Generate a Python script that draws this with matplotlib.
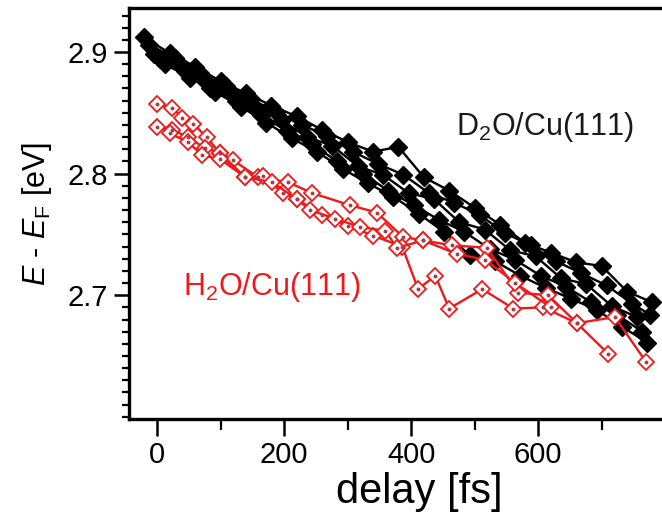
import matplotlib
matplotlib.use("Agg")
import matplotlib.pyplot as plt
from matplotlib.ticker import MultipleLocator, FixedLocator

plt.rcParams['font.family'] = ['Liberation Sans', 'DejaVu Sans']
plt.rcParams['mathtext.fontset'] = 'custom'
plt.rcParams['mathtext.rm'] = 'Liberation Sans'
plt.rcParams['mathtext.it'] = 'Liberation Sans:italic'

# D2O/Cu(111) runs: delay [fs] and peak energy E - E_F [eV]
d2o_x1 = [-20, 20, 60, 100, 140, 180, 220, 260, 300, 340, 380, 420, 460, 500, 540, 580, 620, 660, 700, 740, 780]
d2o_y1 = [2.912, 2.899, 2.888, 2.876, 2.866, 2.856, 2.847, 2.836, 2.826, 2.818, 2.822, 2.797, 2.786, 2.772, 2.758, 2.743, 2.735, 2.727, 2.724, 2.703, 2.694]
d2o_x2 = [-12, 28, 68, 108, 148, 188, 228, 268, 308, 348, 388, 428, 468, 508, 548, 588, 628, 668, 708, 748, 776]
d2o_y2 = [2.906, 2.895, 2.883, 2.872, 2.861, 2.851, 2.840, 2.831, 2.818, 2.808, 2.799, 2.784, 2.776, 2.766, 2.751, 2.741, 2.728, 2.718, 2.708, 2.693, 2.684]
d2o_x3 = [-4, 36, 76, 116, 156, 196, 236, 276, 316, 356, 396, 436, 476, 516, 556, 596, 636, 676, 716, 756]
d2o_y3 = [2.898, 2.890, 2.876, 2.867, 2.853, 2.844, 2.830, 2.823, 2.806, 2.799, 2.784, 2.779, 2.760, 2.754, 2.737, 2.732, 2.714, 2.709, 2.691, 2.682]
d2o_x4 = [4, 44, 84, 124, 164, 204, 244, 284, 324, 364, 404, 444, 484, 524, 564, 604, 644, 684, 724, 764]
d2o_y4 = [2.894, 2.884, 2.870, 2.860, 2.848, 2.835, 2.824, 2.810, 2.800, 2.786, 2.774, 2.762, 2.752, 2.738, 2.729, 2.716, 2.707, 2.694, 2.684, 2.670]
d2o_x5 = [12, 52, 92, 132, 172, 212, 252, 292, 332, 372, 412, 452, 492, 532, 572, 612, 652, 692, 732, 772]
d2o_y5 = [2.890, 2.879, 2.867, 2.855, 2.842, 2.829, 2.818, 2.804, 2.792, 2.781, 2.767, 2.752, 2.733, 2.728, 2.716, 2.706, 2.697, 2.688, 2.674, 2.661]

# H2O/Cu(111) runs
h2o_x1 = [0, 24, 40, 57, 78, 99, 120, 159, 206, 244, 304, 346, 387, 419, 465, 519, 569, 616, 661, 710]
h2o_y1 = [2.857, 2.854, 2.846, 2.841, 2.830, 2.817, 2.811, 2.797, 2.793, 2.784, 2.774, 2.768, 2.748, 2.745, 2.741, 2.739, 2.702, 2.700, 2.677, 2.652]
h2o_x2 = [0, 24, 49, 75, 99, 139, 167, 198, 220, 260, 301, 340, 386, 411, 438, 460, 512, 561, 608, 661, 721, 770]
h2o_y2 = [2.838, 2.836, 2.830, 2.821, 2.817, 2.797, 2.798, 2.784, 2.779, 2.766, 2.757, 2.749, 2.740, 2.705, 2.716, 2.689, 2.705, 2.689, 2.690, 2.677, 2.682, 2.645]
h2o_x3 = [20, 49, 71, 99, 139, 181, 220, 241, 280, 320, 359, 378, 419, 472, 517, 564, 620]
h2o_y3 = [2.833, 2.826, 2.815, 2.812, 2.797, 2.793, 2.779, 2.770, 2.763, 2.756, 2.753, 2.739, 2.745, 2.734, 2.729, 2.710, 2.690]

x_ticks = [0, 200, 400, 600]
y_ticks = [2.7, 2.8, 2.9]

fig = plt.figure(figsize=(6.62, 5.15), dpi=100)
ax = fig.add_axes([0.195, 0.186, 0.805, 0.798])

d2o = [(d2o_x1, d2o_y1), (d2o_x2, d2o_y2), (d2o_x3, d2o_y3), (d2o_x4, d2o_y4), (d2o_x5, d2o_y5)]
h2o = [(h2o_x1, h2o_y1), (h2o_x2, h2o_y2), (h2o_x3, h2o_y3)]

red = '#f01818'

for xs, ys in d2o:
    ax.plot(xs, ys, color='black', lw=1.7, marker='D', ms=9.0,
            mfc='black', mec='black', zorder=2)

for xs, ys in h2o:
    ax.plot(xs, ys, color=red, lw=1.7, marker='D', ms=8.0,
            mfc='white', mec=red, mew=1.3, zorder=3)
    ax.plot(xs, ys, ls='none', marker='o', ms=1.8, color='#b03848', zorder=4)

ax.text(611, 2.838, r'D$_2$O/Cu(111)', fontsize=22, color='#1a1a1a',
        ha='center', va='center')
ax.text(181, 2.707, r'H$_2$O/Cu(111)', fontsize=22, color=red,
        ha='center', va='center')

ax.set_xlim(-44, 795)
ax.set_ylim(2.598, 2.936)

ax.xaxis.set_major_locator(FixedLocator(x_ticks))
ax.xaxis.set_minor_locator(FixedLocator([100, 300, 500, 700]))
ax.yaxis.set_major_locator(FixedLocator(y_ticks))
ax.yaxis.set_minor_locator(MultipleLocator(0.01))
ax.set_xticklabels([str(v) for v in x_ticks])
ax.set_yticklabels([f'{v:.1f}' for v in y_ticks])

ax.tick_params(axis='both', which='major', direction='out', length=11, width=1.8,
               labelsize=21)
ax.tick_params(axis='both', which='minor', direction='out', length=5, width=1.6)
ax.tick_params(axis='x', which='major', pad=4, length=12)
ax.tick_params(axis='x', which='minor', length=8)
ax.tick_params(axis='y', which='major', pad=4)

for side in ('left', 'bottom', 'top'):
    ax.spines[side].set_linewidth(2.4)
ax.spines['right'].set_visible(False)

ax.set_xlabel('delay [fs]', fontsize=30)
ax.xaxis.set_label_coords(0.5 + (419 - 129 - 0.5 * 533) / 533, -0.178)
ax.xaxis.label.set_va('center')
ax.set_ylabel(r'$\mathit{E}$ - $\mathit{E}_\mathrm{F}$ [eV]', fontsize=22, labelpad=10)

fig.savefig('out.png', dpi=100)
